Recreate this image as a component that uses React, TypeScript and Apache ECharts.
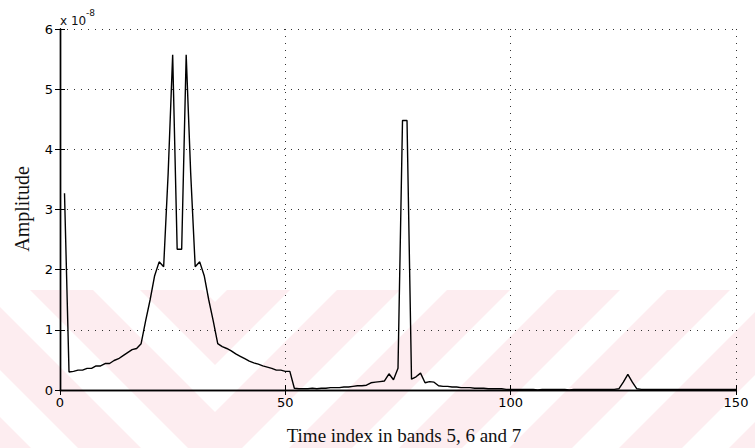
import React, { useEffect, useRef } from "react";
import * as echarts from "echarts";

// ---- data (values in units of 1e-8) ----
const xTicks = [0, 50, 100, 150];
const yTicks = [0, 1, 2, 3, 4, 5, 6];
const firstIndex = 1;
const amplitude = [
  3.27, 0.30, 0.31, 0.33, 0.33, 0.36, 0.36, 0.40, 0.40, 0.44,
  0.44, 0.49, 0.52, 0.57, 0.62, 0.67, 0.69, 0.77, 1.15, 1.50,
  1.90, 2.13, 2.05, 3.60, 5.57, 2.34, 2.34, 5.57, 3.60, 2.05,
  2.13, 1.90, 1.50, 1.15, 0.77, 0.72, 0.69, 0.65, 0.60, 0.56,
  0.52, 0.48, 0.45, 0.43, 0.40, 0.38, 0.36, 0.33, 0.33, 0.31,
  0.31, 0.03, 0.02, 0.02, 0.02, 0.03, 0.02, 0.03, 0.03, 0.04,
  0.04, 0.04, 0.05, 0.05, 0.06, 0.07, 0.07, 0.08, 0.12, 0.13,
  0.14, 0.15, 0.27, 0.17, 0.36, 4.48, 4.48, 0.18, 0.22, 0.28,
  0.12, 0.14, 0.13, 0.07, 0.06, 0.06, 0.05, 0.05, 0.04, 0.04,
  0.04, 0.03, 0.03, 0.03, 0.02, 0.02, 0.02, 0.02, 0.01, 0.01,
  0.01, 0.01, 0.01, 0.01, 0.01, 0.00, 0.01, 0.01, 0.01, 0.01,
  0.01, 0.01, 0.00, 0.01, 0.01, 0.01, 0.01, 0.01, 0.01, 0.01,
  0.01, 0.01, 0.01, 0.02, 0.13, 0.26, 0.13, 0.02, 0.01, 0.01,
  0.01, 0.01, 0.01, 0.01, 0.01, 0.01, 0.01, 0.01, 0.01, 0.01,
  0.01, 0.01, 0.01, 0.01, 0.01, 0.01, 0.01, 0.01, 0.01, 0.01,
];
const xTitle = "Time index in bands 5, 6 and 7";
const yTitle = "Amplitude";
const scaleBase = "x 10";
const scaleExp = "-8";

// ---- watermark helpers (decoration only) ----
type Pt = number[];
function clipX(pts: Pt[], xb: number, keepGreater: boolean): Pt[] {
  const out: Pt[] = [];
  const inside = (p: Pt) => (keepGreater ? p[0] >= xb : p[0] <= xb);
  for (let i = 0; i < pts.length; i++) {
    const a = pts[i];
    const b = pts[(i + 1) % pts.length];
    const ia = inside(a);
    const ib = inside(b);
    if (ia) out.push(a);
    if (ia !== ib) {
      const t = (xb - a[0]) / (b[0] - a[0]);
      out.push([xb, a[1] + t * (b[1] - a[1])]);
    }
  }
  return out;
}

function watermark(): any[] {
  const top = 290;
  const bot = 448;
  const h = bot - top;
  const split = 215;
  const els: any[] = [];
  const fill = "#fdedf0";
  for (let k = -3; k <= 0; k++) {
    const a = 140 + 110 * k;
    const b = 203 + 110 * k;
    let poly: Pt[] = [[a, top], [b, top], [b + h, bot], [a + h, bot]];
    poly = clipX(poly, 0, true);
    if (poly.length) poly = clipX(poly, split, false);
    if (poly.length >= 3)
      els.push({ type: "polygon", z: -100, silent: true, shape: { points: poly }, style: { fill } });
  }
  for (let k = -1; k <= 5; k++) {
    const a = 337 + 110 * k;
    const b = 400 + 110 * k;
    let poly: Pt[] = [[a, top], [b, top], [b - h, bot], [a - h, bot]];
    poly = clipX(poly, split, true);
    if (poly.length) poly = clipX(poly, 755, false);
    if (poly.length >= 3)
      els.push({ type: "polygon", z: -100, silent: true, shape: { points: poly }, style: { fill } });
  }
  return els;
}

export default function App() {
  const ref = useRef<HTMLDivElement>(null);

  useEffect(() => {
    if (!ref.current) return;
    const chart = echarts.init(ref.current, undefined, { renderer: "svg" });
    const tickFont = { fontFamily: "DejaVu Sans", fontSize: 13, color: "#000" };
    const dotted = { show: true, lineStyle: { color: "#333", width: 1, type: [1, 6] as any } };
    const axisLine = { show: true, lineStyle: { color: "#000", width: 1.4 } };
    const tick = { show: true, inside: true, length: 5, lineStyle: { color: "#000", width: 1 } };

    chart.setOption({
      animation: false,
      backgroundColor: "#ffffff",
      grid: { left: 60, top: 29, right: 19, bottom: 58, containLabel: false },
      xAxis: [
        {
          type: "value",
          min: xTicks[0],
          max: xTicks[xTicks.length - 1],
          interval: xTicks[1] - xTicks[0],
          position: "bottom",
          axisLine,
          axisTick: tick,
          axisLabel: { ...tickFont, margin: 6 },
          splitLine: dotted,
        },
        {
          type: "value",
          min: xTicks[0],
          max: xTicks[xTicks.length - 1],
          interval: xTicks[1] - xTicks[0],
          position: "top",
          axisLine,
          axisTick: tick,
          axisLabel: { show: false },
          splitLine: { show: false },
        },
      ],
      yAxis: [
        {
          type: "value",
          min: yTicks[0],
          max: yTicks[yTicks.length - 1],
          interval: yTicks[1] - yTicks[0],
          position: "left",
          axisLine,
          axisTick: tick,
          axisLabel: { ...tickFont, margin: 7 },
          splitLine: dotted,
        },
        {
          type: "value",
          min: yTicks[0],
          max: yTicks[yTicks.length - 1],
          interval: yTicks[1] - yTicks[0],
          position: "right",
          axisLine,
          axisTick: tick,
          axisLabel: { show: false },
          splitLine: { show: false },
        },
      ],
      series: [
        {
          type: "line",
          xAxisIndex: 0,
          yAxisIndex: 0,
          data: amplitude.map((v, i) => [i + firstIndex, v]),
          showSymbol: false,
          symbol: "none",
          lineStyle: { color: "#000", width: 1.4 },
          z: 5,
        },
      ],
      graphic: {
        elements: [
          ...watermark(),
          {
            type: "text",
            x: 22,
            y: 209,
            rotation: Math.PI / 2,
            z: 50,
            style: {
              text: yTitle,
              font: '20px "Liberation Serif"',
              fill: "#111",
              align: "center",
              verticalAlign: "middle",
            },
          },
          {
            type: "text",
            x: 404,
            y: 435,
            z: 50,
            style: {
              text: xTitle,
              font: '19px "Liberation Serif"',
              fill: "#111",
              align: "center",
              verticalAlign: "middle",
            },
          },
          {
            type: "text",
            x: 60,
            y: 21,
            z: 50,
            style: {
              text: scaleBase,
              font: '12px "DejaVu Sans"',
              fill: "#111",
              align: "left",
              verticalAlign: "middle",
            },
          },
          {
            type: "text",
            x: 86,
            y: 13,
            z: 50,
            style: {
              text: scaleExp,
              font: '9px "DejaVu Sans"',
              fill: "#111",
              align: "left",
              verticalAlign: "middle",
            },
          },
        ],
      },
    });
    return () => chart.dispose();
  }, []);

  return (
    <div
      ref={ref}
      style={{ position: "fixed", left: 0, top: 0, width: 755, height: 448, background: "#fff" }}
    />
  );
}
